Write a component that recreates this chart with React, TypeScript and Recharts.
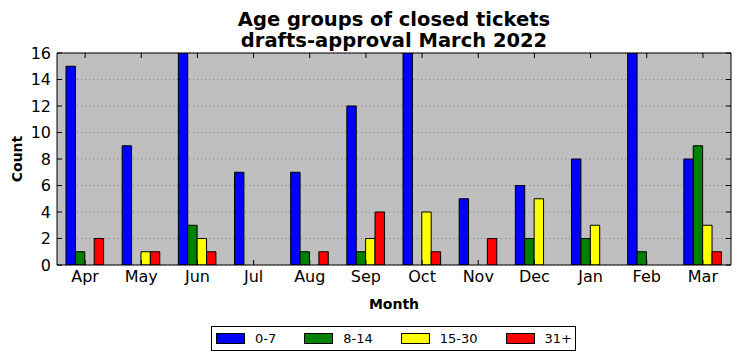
import React from "react";
import { BarChart, Bar, XAxis, YAxis, CartesianGrid } from "recharts";

const months = ["Apr", "May", "Jun", "Jul", "Aug", "Sep", "Oct", "Nov", "Dec", "Jan", "Feb", "Mar"];
const age0to7 = [15, 9, 16, 7, 7, 12, 16, 5, 6, 8, 16, 8];
const age8to14 = [1, 0, 3, 0, 1, 1, 0, 0, 2, 2, 1, 9];
const age15to30 = [0, 1, 2, 0, 0, 2, 4, 0, 5, 3, 0, 3];
const age31plus = [2, 1, 1, 0, 1, 4, 1, 2, 0, 0, 0, 1];
const yTicks = [0, 2, 4, 6, 8, 10, 12, 14, 16];

const series = [
  { key: "a", name: "0-7", color: "#0000ff", values: age0to7 },
  { key: "b", name: "8-14", color: "#008000", values: age8to14 },
  { key: "c", name: "15-30", color: "#ffff00", values: age15to30 },
  { key: "d", name: "31+", color: "#ff0000", values: age31plus },
];

const data = months.map((m, i) => {
  const row: any = { month: m };
  series.forEach((s) => (row[s.key] = s.values[i]));
  return row;
});

const FONT = "'DejaVu Sans', sans-serif";
const emptyTick = () => <g />;

export default function App() {
  return (
    <div style={{ position: "absolute", left: 0, top: 0, width: 740, height: 361, background: "#fff", fontFamily: FONT }}>
      <div
        style={{
          position: "absolute",
          left: 0,
          top: 9,
          width: 788,
          textAlign: "center",
          fontSize: 19.5,
          fontWeight: "bold",
          lineHeight: "21.3px",
          color: "#000",
        }}
      >
        <div>Age groups of closed tickets</div>
        <div>drafts-approval March 2022</div>
      </div>
      <BarChart
        width={740}
        height={361}
        data={data}
        margin={{ top: 52, right: 0, bottom: 0, left: 0 }}
        barGap={0}
        barSize={9.4}
      >
        <CartesianGrid vertical={false} fill="#bfbfbf" stroke="#808080" strokeDasharray="1 3" />
        <XAxis
          dataKey="month"
          height={96}
          interval={0}
          tickSize={-5}
          tickMargin={11}
          stroke="#000"
          tick={{ fill: "#000", fontSize: 16, fontFamily: FONT }}
          label={{
            value: "Month",
            position: "insideTop",
            offset: 34,
            style: { fill: "#000", fontSize: 14, fontWeight: "bold", fontFamily: FONT },
          }}
        />
        <XAxis
          xAxisId="top"
          dataKey="month"
          orientation="top"
          height={1}
          interval={0}
          tickSize={-5}
          stroke="#000"
          tick={emptyTick}
        />
        <YAxis
          width={57}
          domain={[0, 16]}
          allowDataOverflow
          ticks={yTicks}
          interval={0}
          tickSize={-5}
          tickMargin={11}
          stroke="#000"
          tick={{ fill: "#000", fontSize: 16, fontFamily: FONT }}
          label={{
            value: "Count",
            angle: -90,
            position: "insideLeft",
            offset: 17,
            style: { fill: "#000", fontSize: 14, fontWeight: "bold", fontFamily: FONT, textAnchor: "middle" },
          }}
        />
        <YAxis
          yAxisId="right"
          orientation="right"
          width={9}
          domain={[0, 16]}
          allowDataOverflow
          ticks={yTicks}
          interval={0}
          tickSize={-5}
          stroke="#000"
          tick={emptyTick}
        />
        {series.map((s) => (
          <Bar
            key={s.key}
            dataKey={s.key}
            name={s.name}
            fill={s.color}
            stroke="#000"
            strokeWidth={1}
            isAnimationActive={false}
          />
        ))}
      </BarChart>
      <div
        style={{
          position: "absolute",
          left: 211,
          top: 326,
          width: 363,
          height: 23,
          border: "1px solid #000",
          background: "#fff",
          display: "flex",
          alignItems: "center",
          boxSizing: "content-box",
          fontSize: 13,
          color: "#000",
        }}
      >
        {series.map((s, i) => (
          <div key={s.key} style={{ display: "flex", alignItems: "center", marginLeft: i === 0 ? 4 : 28 }}>
            <div style={{ width: 27, height: 9, background: s.color, border: "1px solid #000" }} />
            <span style={{ marginLeft: 10 }}>{s.name}</span>
          </div>
        ))}
      </div>
    </div>
  );
}
